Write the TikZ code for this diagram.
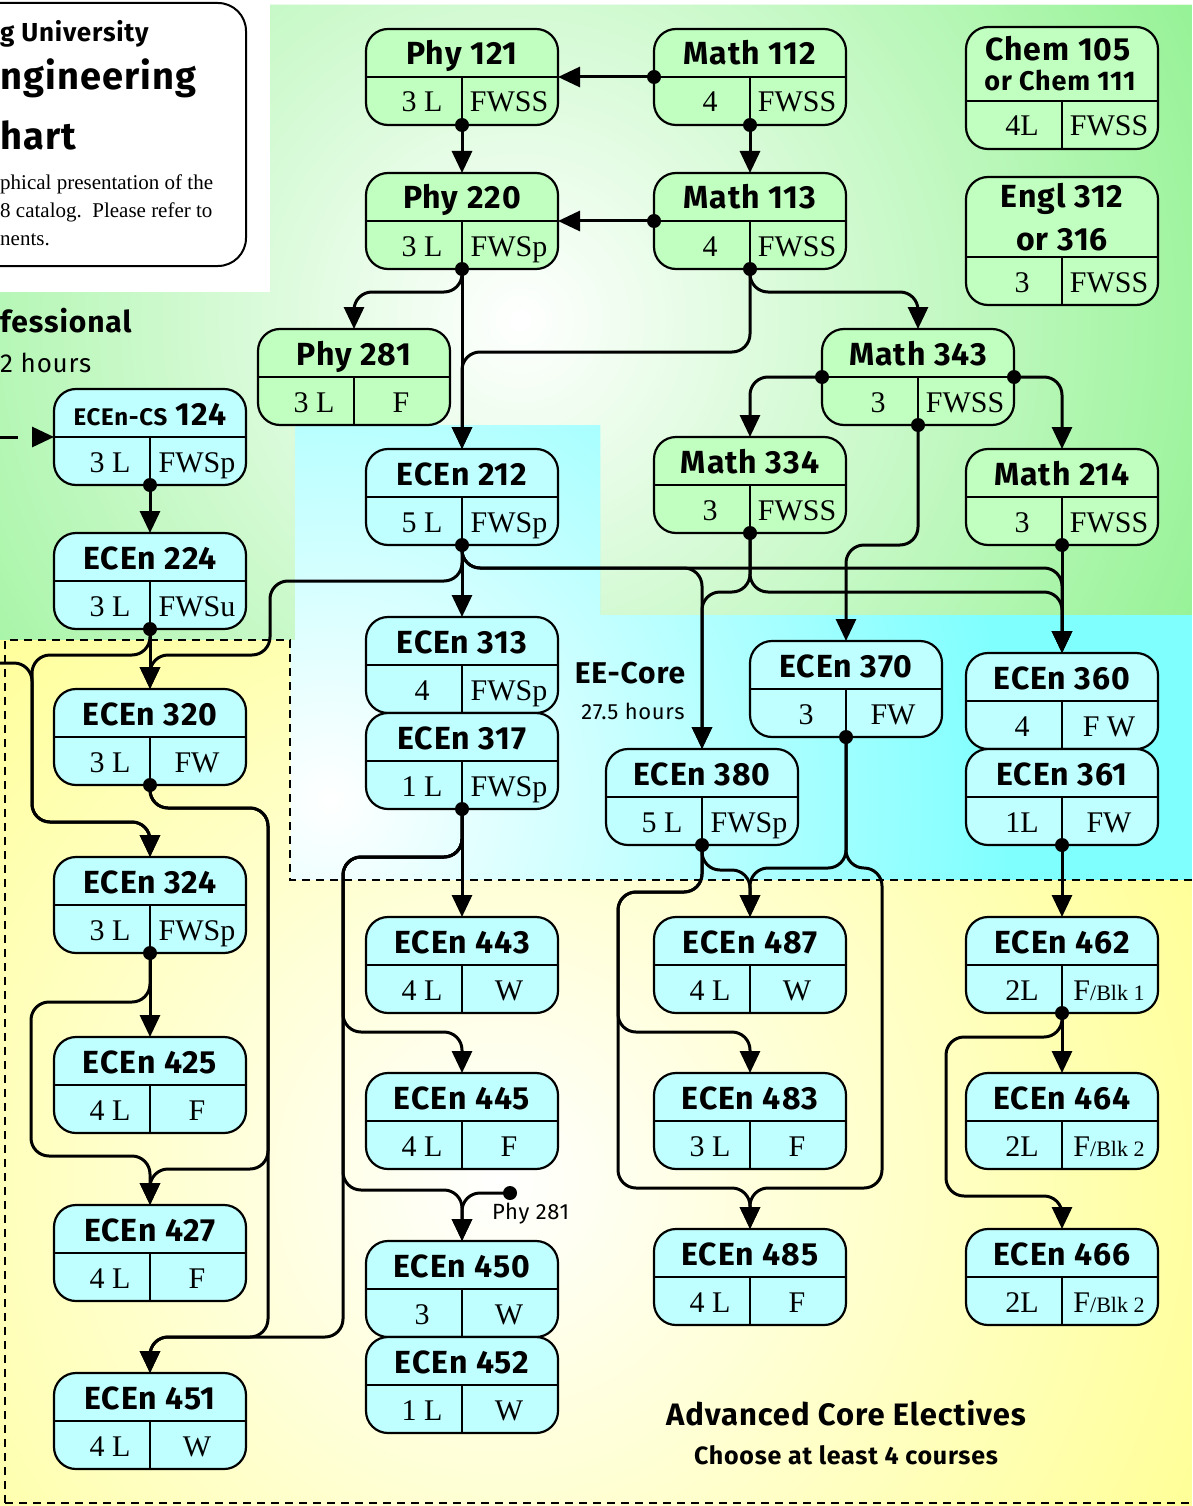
\documentclass[tikz,border=0pt]{standalone}
\usepackage{fontspec}
\setmainfont{Liberation Serif}
\setsansfont{Fira Sans}[LetterSpace=3]
\usetikzlibrary{arrows.meta}
\definecolor{gbox}{RGB}{192,255,192}
\definecolor{cbox}{RGB}{192,255,255}
\definecolor{gsat}{RGB}{128,240,128}
\definecolor{csat}{RGB}{128,255,255}
\definecolor{ysat}{RGB}{255,255,100}
\tikzset{
  cbx/.style={draw, line width=2.2pt, rounded corners=22pt, minimum width=192pt, inner sep=0pt, outer sep=0pt},
  ttl/.style={font=\sffamily\bfseries\fontsize{32}{36}\selectfont, inner sep=0pt, anchor=base},
  sub/.style={font=\rmfamily\fontsize{30}{34}\selectfont, inner sep=0pt, anchor=base},
  conn/.style={line width=3pt, rounded corners=18pt, -{Triangle[length=22pt,width=20pt]}},
  lbl/.style={inner sep=0pt, anchor=base west},
  dv/.style={line width=2pt}
}
\newcommand\course[8]{%
  \node[cbx, fill=#8, minimum height=#4pt+48pt, anchor=north] (#1) at (#2,#3) {};
  \draw[dv] (#2-96,#3+#4) -- (#2+96,#3+#4);
  \draw[dv] (#2,#3+#4) -- (#1.south);
  \node[ttl] (#1t) at (#2,#3+#4/2+12) {#5};
  \node[sub] (#1l) at (#2-40,#3+#4+35) {#6};
  \node[sub] (#1r) at (#2+47,#3+#4+35) {#7};
}
\newcommand\blk[1]{F{\fontsize{22}{24}\selectfont/Blk #1}}
\newcommand\pdot[1]{\fill (#1) circle (7pt);}
\begin{document}
\begin{tikzpicture}[x=1pt,y=-1pt]
\clip (0,0) rectangle (1192,1506);
\fill[white] (0,0) rectangle (1192,1506);
% green region
\begin{scope}
\clip (270,5) -- (1192,5) -- (1192,615) -- (600,615) -- (600,425) -- (295,425) -- (295,640) -- (0,640) -- (0,292) -- (270,292) -- cycle;
\fill[gsat] (0,0) rectangle (1192,700);
\shade[inner color=white, outer color=gsat] (520,320) circle (900);
\end{scope}
% cyan region
\begin{scope}
\clip (295,425) -- (600,425) -- (600,615) -- (1192,615) -- (1192,880) -- (290,880) -- (290,640) -- (295,640) -- cycle;
\fill[csat] (280,400) rectangle (1192,900);
\shade[inner color=white, outer color=csat] (330,800) circle (680);
\end{scope}
% yellow region
\begin{scope}
\clip (0,640) -- (290,640) -- (290,880) -- (1192,880) -- (1192,1506) -- (0,1506) -- cycle;
\fill[ysat] (0,600) rectangle (1192,1506);
\shade[inner color=white, outer color=ysat] (500,1180) circle (1150);
\end{scope}
\draw[line width=1.6pt, dash pattern=on 8pt off 6pt] (5,1503) -- (5,640) -- (290,640) -- (290,880) -- (1192,880);
\draw[line width=1.6pt, dash pattern=on 8pt off 6pt] (5,1503) -- (1192,1503);

% title box
\draw[line width=2pt, fill=white, rounded corners=28pt] (-40,3) rectangle (246,266);
\node[lbl, font=\sffamily\bfseries\fontsize{26}{28}\selectfont] (t1) at (0,42) {g University};
\node[lbl, font=\sffamily\bfseries\fontsize{38}{44}\selectfont] (t2) at (0,90) {ngineering};
\node[lbl, font=\sffamily\bfseries\fontsize{38}{44}\selectfont] (t3) at (0,150) {hart};
\node[lbl, font=\rmfamily\fontsize{21}{24}\selectfont] (t4) at (0,190) {phical presentation of the};
\node[lbl, font=\rmfamily\fontsize{21}{24}\selectfont] (t5) at (0,218) {8 catalog.\ \ Please refer to};
\node[lbl, font=\rmfamily\fontsize{21}{24}\selectfont] (t6) at (0,246) {nents.};
\node[lbl, font=\sffamily\bfseries\fontsize{30}{34}\selectfont] (t7) at (0,332) {fessional};
\node[lbl, font=\sffamily\fontsize{26}{30}\selectfont] (t8) at (0,372) {2 hours};

% courses (green)
\course{p121}{462}{29}{48}{Phy 121}{3 L}{FWSS}{gbox}
\course{m112}{750}{29}{48}{Math 112}{4}{FWSS}{gbox}
\course{chem}{1062}{27}{74}{}{4L}{FWSS}{gbox}
\node[ttl] (chema) at (1058,61) {Chem 105};
\node[ttl, font=\sffamily\bfseries\fontsize{27}{30}\selectfont] (chemb) at (1060,91) {or Chem 111};
\course{p220}{462}{173}{48}{Phy 220}{3 L}{FWSp}{gbox}
\course{m113}{750}{173}{48}{Math 113}{4}{FWSS}{gbox}
\course{engl}{1062}{177}{80}{}{3}{FWSS}{gbox}
\node[ttl] (engla) at (1062,208) {Engl 312};
\node[ttl] (englb) at (1062,251) {or 316};
\course{p281}{354}{329}{48}{Phy 281}{3 L}{F}{gbox}
\course{m343}{918}{329}{48}{Math 343}{3}{FWSS}{gbox}
\course{m334}{750}{437}{48}{Math 334}{3}{FWSS}{gbox}
\course{m214}{1062}{449}{48}{Math 214}{3}{FWSS}{gbox}

% courses (cyan)
\course{e124}{150}{389}{48}{{\fontsize{24}{26}\selectfont ECEn-CS} 124}{3 L}{FWSp}{cbox}
\course{e224}{150}{533}{48}{ECEn 224}{3 L}{FWSu}{cbox}
\course{e320}{150}{689}{48}{ECEn 320}{3 L}{FW}{cbox}
\course{e324}{150}{857}{48}{ECEn 324}{3 L}{FWSp}{cbox}
\course{e425}{150}{1037}{48}{ECEn 425}{4 L}{F}{cbox}
\course{e427}{150}{1205}{48}{ECEn 427}{4 L}{F}{cbox}
\course{e451}{150}{1373}{48}{ECEn 451}{4 L}{W}{cbox}
\course{e212}{462}{449}{48}{ECEn 212}{5 L}{FWSp}{cbox}
\course{e313}{462}{617}{48}{ECEn 313}{4}{FWSp}{cbox}
\course{e317}{462}{713}{48}{ECEn 317}{1 L}{FWSp}{cbox}
\course{e443}{462}{917}{48}{ECEn 443}{4 L}{W}{cbox}
\course{e445}{462}{1073}{48}{ECEn 445}{4 L}{F}{cbox}
\course{e450}{462}{1241}{48}{ECEn 450}{3}{W}{cbox}
\course{e452}{462}{1337}{48}{ECEn 452}{1 L}{W}{cbox}
\course{e380}{702}{749}{48}{ECEn 380}{5 L}{FWSp}{cbox}
\course{e370}{846}{641}{48}{ECEn 370}{3}{FW}{cbox}
\course{e487}{750}{917}{48}{ECEn 487}{4 L}{W}{cbox}
\course{e483}{750}{1073}{48}{ECEn 483}{3 L}{F}{cbox}
\course{e485}{750}{1229}{48}{ECEn 485}{4 L}{F}{cbox}
\course{e360}{1062}{653}{48}{ECEn 360}{4}{F W}{cbox}
\course{e361}{1062}{749}{48}{ECEn 361}{1L}{FW}{cbox}
\course{e462}{1062}{917}{48}{ECEn 462}{2L}{\blk{1}}{cbox}
\course{e464}{1062}{1073}{48}{ECEn 464}{2L}{\blk{2}}{cbox}
\course{e466}{1062}{1229}{48}{ECEn 466}{2L}{\blk{2}}{cbox}

% labels
\node[font=\sffamily\bfseries\fontsize{30}{34}\selectfont, inner sep=0pt] (eecore) at (630,673) {EE-Core};
\node[font=\sffamily\fontsize{22}{26}\selectfont, inner sep=0pt] (eehrs) at (633,711) {27.5 hours};
\node[font=\sffamily\bfseries\fontsize{31}{35}\selectfont, inner sep=0pt] (adv) at (846,1413) {Advanced Core Electives};
\node[font=\sffamily\bfseries\fontsize{25}{29}\selectfont, inner sep=0pt] (choose) at (846,1455) {Choose at least 4 courses};
\coordinate (phyref) at (510,1193);
\node[lbl, font=\sffamily\fontsize{22}{26}\selectfont] (phylbl) at (492,1219) {Phy 281};
\coordinate (csin) at (0,437);
\coordinate (offl) at (0,663);

% connectors
\draw[conn] (m112.west) -- (p121.east);
\draw[conn] (p121.south) -- (p220.north);
\draw[conn] (m112.south) -- (m113.north);
\draw[conn] (m113.west) -- (p220.east);
\draw[conn] (p220.south) -- (462,292) -| (p281.north);
\draw[conn] (p220.south) -- (e212.north);
\draw[conn] (m113.south) -- (750,352) -- (462,352) -- (e212.north);
\draw[conn] (m113.south) -- (750,292) -| (m343.north);
\draw[conn] (m343.west) -| (m334.north);
\draw[conn] (m343.east) -| (m214.north);
\draw[conn] (m343.south) -- (918,545) -| (e370.north);
\draw[conn] (e212.south) -- (e313.north);
\draw[conn] (e212.south) -- (462,581) -- (270,581) -- (270,655) -| (e320.north);
\draw[conn] (e212.south) -- (462,568) -| (e380.north);
\draw[conn] (e212.south) -- (462,568) -| (e360.north);
\draw[conn] (m334.south) -- (750,592) -| (e380.north);
\draw[conn] (m334.south) -- (750,592) -| (e360.north);
\draw[conn] (m214.south) -- (e360.north);
\draw[conn] (e124.south) -- (e224.north);
\draw[conn] (e224.south) -- (e320.north);
\draw[conn] (e224.south) -- (150,655) -- (32,655) -- (32,822) -| (e324.north);
\draw[conn] (offl) -- (32,663) -- (32,822) -| (e324.north);
\draw[conn] (e320.south) -- (150,808) -- (268,808) -- (268,1169) -| (e427.north);
\draw[conn] (e320.south) -- (150,808) -- (268,808) -- (268,1337) -| (e451.north);
\draw[conn] (e324.south) -- (e425.north);
\draw[conn] (e324.south) -- (150,1002) -- (31,1002) -- (31,1156) -| (e427.north);
\draw[conn] (e317.south) -- (e443.north);
\draw[conn] (e317.south) -- (462,857) -- (343,857) -- (343,1032) -| (e445.north);
\draw[conn] (e317.south) -- (462,857) -- (343,857) -- (343,1190) -| (e450.north);
\draw[conn] (e317.south) -- (462,857) -- (343,857) -- (343,1337) -| (e451.north);
\draw[conn] (phyref) -| (e450.north);
\draw[conn] (e380.south) -- (702,870) -| (e487.north);
\draw[conn] (e380.south) -- (702,892) -- (618,892) -- (618,1032) -| (e483.north);
\draw[conn] (e380.south) -- (702,892) -- (618,892) -- (618,1188) -| (e485.north);
\draw[conn] (e370.south) -- (846,868) -| (e487.north);
\draw[conn] (e370.south) -- (846,868) -- (882,868) -- (882,1188) -| (e485.north);
\draw[conn] (e361.south) -- (e462.north);
\draw[conn] (e462.south) -- (e464.north);
\draw[conn] (e462.south) -- (1062,1037) -- (946,1037) -- (946,1196) -| (e466.north);
\draw[conn, dash pattern=on 18pt off 18pt] (csin) -- (e124.west);

% dots
\pdot{m112.west}\pdot{p121.south}\pdot{m112.south}\pdot{m113.west}
\pdot{p220.south}\pdot{m113.south}\pdot{m343.west}\pdot{m343.east}
\pdot{m343.south}\pdot{m334.south}\pdot{m214.south}\pdot{e212.south}
\pdot{e317.south}\pdot{e320.south}\pdot{e324.south}\pdot{e224.south}
\pdot{e124.south}\pdot{e380.south}\pdot{e370.south}\pdot{e361.south}
\pdot{e462.south}\pdot{phyref}
\end{tikzpicture}
\end{document}
